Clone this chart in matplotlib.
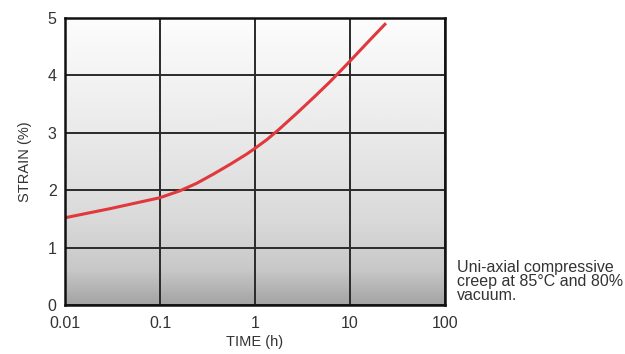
import numpy as np
import matplotlib
matplotlib.use("Agg")
import matplotlib.pyplot as plt
from matplotlib.colors import LinearSegmentedColormap

# Creep curve: time (h) vs strain (%)
time_h = [0.01, 0.03, 0.1, 0.162, 0.243, 0.364, 0.546, 0.818, 1.0, 1.33,
          1.76, 2.75, 4.11, 6.16, 10.0, 15.0, 23.9]
strain_pct = [1.52, 1.68, 1.87, 1.99, 2.12, 2.28, 2.45, 2.63, 2.73, 2.88,
              3.05, 3.34, 3.61, 3.89, 4.25, 4.56, 4.91]

x_ticks = [0.01, 0.1, 1, 10, 100]
x_tick_labels = ["0.01", "0.1", "1", "10", "100"]
y_ticks = [0, 1, 2, 3, 4, 5]

note = "Uni-axial compressive\ncreep at 85°C and 80%\nvacuum."

plt.rcParams["font.family"] = ["Liberation Sans", "DejaVu Sans"]

fig = plt.figure(figsize=(6.25, 3.54), dpi=100)
ax = fig.add_axes([0.104, 0.1384, 0.608, 0.8106])

ax.set_xscale("log")
ax.set_xlim(0.01, 100)
ax.set_ylim(0, 5)

# vertical grey gradient background
grad_cmap = LinearSegmentedColormap.from_list(
    "bg", [(0.0, "#a4a4a4"), (0.12, "#c8c8c8"), (0.3, "#dadada"),
           (0.6, "#eaeaea"), (1.0, "#fdfdfd")])
g = np.linspace(0, 1, 256).reshape(-1, 1)
ax.imshow(g, aspect="auto", cmap=grad_cmap, origin="lower",
          extent=[0.01, 100, 0, 5], zorder=0, interpolation="bilinear")

ax.set_xticks(x_ticks)
ax.set_xticklabels(x_tick_labels)
ax.set_yticks(y_ticks)
ax.minorticks_off()
ax.grid(True, color="#2a2a2a", linewidth=1.4, zorder=1)
ax.set_axisbelow(False)

ax.plot(time_h, strain_pct, color="#e0383d", linewidth=2.2, zorder=3,
        solid_capstyle="butt", solid_joinstyle="round")

for s in ax.spines.values():
    s.set_color("#111111")
    s.set_linewidth(1.8)
    s.set_zorder(4)

ax.tick_params(axis="both", length=0, labelsize=11.5, colors="#333333", pad=6)
ax.tick_params(axis="x", pad=8)

ax.set_xlabel("TIME (h)", fontsize=10.5, color="#333333", labelpad=3)
ax.set_ylabel("STRAIN (%)", fontsize=10.5, color="#333333", labelpad=11)

fig.text(457 / 625, 1 - 260 / 354, note, fontsize=11.5, color="#333333",
         va="top", ha="left", linespacing=0.92)

fig.savefig("out.png", dpi=100)
